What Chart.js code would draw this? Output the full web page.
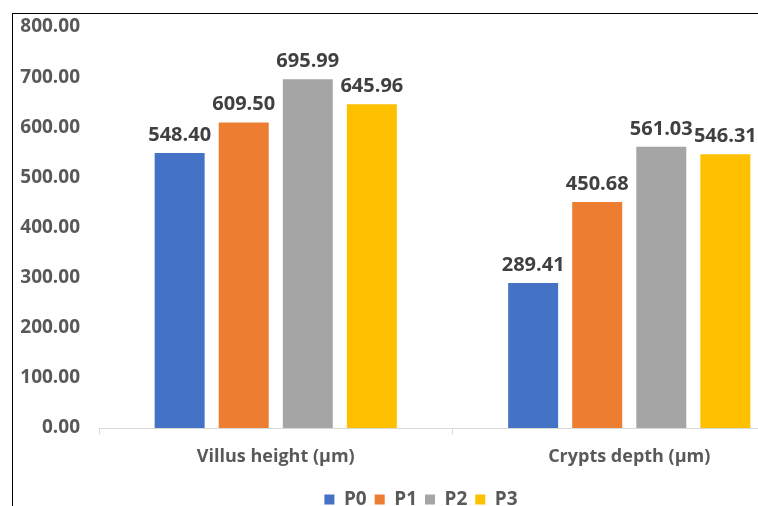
<!DOCTYPE html>
<html lang="en">
<head>
    <meta charset="UTF-8">
    <title>Villus height and crypts depth</title>
    <script src="https://cdn.jsdelivr.net/npm/chart.js"></script>
    <style>
        body { margin: 0; background: #fff; overflow: hidden; }
        #frame {
            position: absolute; left: 12px; top: 13px;
            width: 860px; height: 520px;
            border-left: 1px solid #000; border-top: 1px solid #000;
        }
        #frame canvas { position: absolute; left: 0; top: 0; }
    </style>
</head>
<body>
    <div id="frame">
        <canvas id="barChart" width="809" height="505"></canvas>
    </div>

    <script>
      // values
      const categories = ["Villus height (µm)", "Crypts depth (µm)"];
      const seriesNames = ["P0", "P1", "P2", "P3"];
      const p0 = [548.40, 289.41];
      const p1 = [609.50, 450.68];
      const p2 = [695.99, 561.03];
      const p3 = [645.96, 546.31];
      const colors = ["#4472c4", "#ed7d31", "#a5a5a5", "#ffc000"];

      const fontFamily = "'Open Sans', 'Liberation Sans', sans-serif";

      // values above bars
      const valueLabels = {
        id: "valueLabels",
        afterDatasetsDraw(chart) {
          const ctx = chart.ctx;
          ctx.save();
          ctx.font = "bold 20px " + fontFamily;
          ctx.fillStyle = "#404040";
          ctx.textAlign = "center";
          ctx.textBaseline = "alphabetic";
          chart.data.datasets.forEach((ds, i) => {
            chart.getDatasetMeta(i).data.forEach((bar, j) => {
              ctx.fillText(ds.data[j].toFixed(2), bar.x, bar.y - 12);
            });
          });
          ctx.restore();
        }
      };

      // an empty axis that only takes up room
      const spacer = (pos, w) => ({
        type: "linear",
        position: pos,
        weight: 0,
        grid: { display: false, drawTicks: false },
        border: { display: false },
        ticks: { display: false },
        afterFit: (scale) => { scale.width = w; }
      });

      const ctx = document.getElementById("barChart").getContext("2d");
      new Chart(ctx, {
        type: "bar",
        data: {
          labels: categories,
          datasets: [p0, p1, p2, p3].map((d, i) => ({
            label: seriesNames[i],
            data: d,
            backgroundColor: colors[i],
            borderWidth: 0,
            categoryPercentage: 0.725,
            barPercentage: 0.78
          }))
        },
        options: {
          responsive: false,
          animation: false,
          layout: { padding: { top: 13, right: 0, bottom: 0, left: 7 } },
          plugins: {
            legend: {
              position: "bottom",
              labels: {
                boxWidth: 10,
                boxHeight: 10,
                padding: 8,
                color: "#595959",
                font: { family: fontFamily, size: 19, weight: "bold" }
              }
            },
            tooltip: { enabled: false }
          },
          scales: {
            x: {
              grid: { drawOnChartArea: false, color: "#d9d9d9", tickLength: 6 },
              border: { color: "#d9d9d9" },
              ticks: {
                padding: 12,
                color: "#595959",
                font: { family: fontFamily, size: 18, weight: "bold" }
              },
              afterFit: (scale) => { scale.height = 54; }
            },
            y: {
              min: 0,
              max: 800,
              weight: 1,
              grid: { display: false, drawTicks: false },
              border: { display: false },
              ticks: {
                stepSize: 100,
                padding: 0,
                color: "#595959",
                font: { family: fontFamily, size: 19, weight: "bold" },
                callback: (v) => v.toFixed(2)
              },
              afterFit: (scale) => { scale.width = 60; }
            },
            gapLeft: spacer("left", 19),
            gapRight: spacer("right", 16)
          }
        },
        plugins: [valueLabels]
      });
    </script>
</body>
</html>
